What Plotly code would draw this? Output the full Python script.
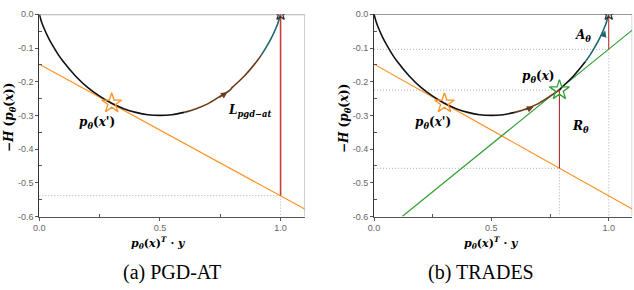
import plotly.graph_objects as go

# ---- data ----
curve_x = [0.0, 0.01, 0.02, 0.04, 0.06, 0.08, 0.10, 0.15, 0.20, 0.25, 0.30, 0.35, 0.40, 0.45, 0.50,
           0.55, 0.60, 0.65, 0.70, 0.75, 0.79, 0.80, 0.85, 0.90, 0.92, 0.94, 0.96, 0.98, 0.99, 1.0]
curve_y = [0.0, -0.024, -0.042, -0.073, -0.098, -0.121, -0.141, -0.183, -0.217, -0.243, -0.264, -0.280,
           -0.291, -0.298, -0.300, -0.298, -0.291, -0.280, -0.265, -0.243, -0.225, -0.217, -0.183,
           -0.141, -0.121, -0.098, -0.073, -0.042, -0.024, 0.0]

adv_point = (0.30, -0.264)      # p_theta(x')
nat_point = (0.79, -0.225)      # p_theta(x)
label_point = (1.0, 0.0)        # y

orange_x = [0.0, 1.1]
orange_y = [-0.148, -0.578]
green_x = [0.12, 1.1]
green_y = [-0.6, -0.047]

pgd_gap_y = -0.538              # orange line at x = 1
trades_top_y = -0.104           # green line at x = 1
trades_bot_y = -0.457           # orange line at x = 0.79

yticks = [0.0, -0.1, -0.2, -0.3, -0.4, -0.5, -0.6]
ytick_text = ["0.0", "-0.1", "-0.2", "-0.3", "-0.4", "-0.5", "-0.6"]
xticks = [0.0, 0.5, 1.0]
xtick_text = ["0.0", "0.5", "1.0"]

BLACK = "#111111"
BROWN = "#6b3b1c"
TEAL = "#1d6670"
ORANGE = "#ff9124"
GREEN = "#34a034"
RED = "#c83c3c"
GRAY = "#9a9a9a"

W, H = 634, 290
def px_x(p): return p / W
def px_y(p): return 1 - p / H

fig = go.Figure()

def seg(xs, ys, lo, hi):
    pts = [(a, b) for a, b in zip(xs, ys) if lo - 1e-9 <= a <= hi + 1e-9]
    return [p[0] for p in pts], [p[1] for p in pts]

def add_curve(xa, ya, segments):
    for lo, hi, col in segments:
        sx, sy = seg(curve_x, curve_y, lo, hi)
        fig.add_trace(go.Scatter(x=sx, y=sy, mode="lines", line=dict(color=col, width=1.6, shape="spline"),
                                 xaxis=xa, yaxis=ya, showlegend=False, hoverinfo="skip"))

def line(xa, ya, xs, ys, col, width=1.0, dash="solid"):
    fig.add_trace(go.Scatter(x=xs, y=ys, mode="lines", line=dict(color=col, width=width, dash=dash),
                             xaxis=xa, yaxis=ya, showlegend=False, hoverinfo="skip"))

def star(xa, ya, pt, col, size, symbol="star-open"):
    fig.add_trace(go.Scatter(x=[pt[0]], y=[pt[1]], mode="markers",
                             marker=dict(symbol=symbol, size=size, color=col, line=dict(color=col, width=1.3)),
                             xaxis=xa, yaxis=ya, showlegend=False, hoverinfo="skip"))

DOT = "1px,2px"

# ---------- left: PGD-AT ----------
line("x", "y", [0, label_point[0]], [pgd_gap_y, pgd_gap_y], GRAY, 0.8, DOT)
line("x", "y", [label_point[0], label_point[0]], [pgd_gap_y, -0.6], GRAY, 0.8, DOT)
line("x", "y", orange_x, orange_y, ORANGE, 1.2)
add_curve("x", "y", [(0.0, 0.60, BLACK), (0.60, 0.92, BROWN), (0.92, 1.0, TEAL)])
line("x", "y", [label_point[0], label_point[0]], [label_point[1], pgd_gap_y], RED, 1.6)
star("x", "y", adv_point, ORANGE, 15)
star("x", "y", label_point, "#333333", 9)

# ---------- right: TRADES ----------
line("x2", "y2", [0, label_point[0]], [trades_top_y, trades_top_y], GRAY, 0.8, DOT)
line("x2", "y2", [0, nat_point[0]], [nat_point[1], nat_point[1]], GRAY, 0.8, DOT)
line("x2", "y2", [0, nat_point[0]], [trades_bot_y, trades_bot_y], GRAY, 0.8, DOT)
line("x2", "y2", [nat_point[0], nat_point[0]], [trades_bot_y, -0.6], GRAY, 0.8, DOT)
line("x2", "y2", [label_point[0], label_point[0]], [trades_top_y, -0.6], GRAY, 0.8, DOT)
line("x2", "y2", orange_x, orange_y, ORANGE, 1.2)
line("x2", "y2", green_x, green_y, GREEN, 1.2)
add_curve("x2", "y2", [(0.0, 0.60, BLACK), (0.60, 0.79, BROWN), (0.79, 0.90, BLACK), (0.90, 1.0, TEAL)])
line("x2", "y2", [nat_point[0], nat_point[0]], [nat_point[1], trades_bot_y], "#b03030", 1.1)
line("x2", "y2", [label_point[0], label_point[0]], [label_point[1], trades_top_y], "#b03030", 1.1)
star("x2", "y2", adv_point, ORANGE, 15)
star("x2", "y2", nat_point, GREEN, 15)
star("x2", "y2", label_point, "#333333", 9)

# ---------- axes ----------
left_dom = [px_x(39.3), px_x(304.7)]
right_dom = [px_x(374.0), px_x(632.2)]
ydom = [px_y(216.5), px_y(14.3)]

def xaxis_cfg(dom, anchor):
    return dict(domain=dom, anchor=anchor, range=[0, 1.1], tickvals=xticks, ticktext=xtick_text,
                automargin=False,
                showgrid=False, zeroline=False, showline=True, linecolor="#555555", linewidth=1,
                ticks="outside", ticklen=3, tickcolor="#555555",
                minor=dict(tickvals=[0.25, 0.75], ticks="inside", ticklen=3, tickcolor="#555555"),
                tickfont=dict(family="Liberation Sans, Arial", size=9, color="#666666"))

def yaxis_cfg(anchor):
    return dict(domain=ydom, anchor=anchor, range=[-0.6, 0.0], tickvals=yticks, ticktext=ytick_text,
                automargin=False,
                showgrid=False, zeroline=False, showline=True, linecolor="#333333", linewidth=1,
                ticks="outside", ticklen=3, tickcolor="#555555",
                minor=dict(tickvals=[-0.05, -0.15, -0.25, -0.35, -0.45, -0.55], ticks="inside",
                           ticklen=3, tickcolor="#555555"),
                tickfont=dict(family="Liberation Sans, Arial", size=9, color="#666666"))

fig.update_layout(
    template="none",
    xaxis=xaxis_cfg(left_dom, "y"), yaxis=yaxis_cfg("x"),
    xaxis2=xaxis_cfg(right_dom, "y2"), yaxis2=yaxis_cfg("x2"),
    width=W, height=H, margin=dict(l=0, r=0, t=0, b=0, pad=0, autoexpand=False),
    paper_bgcolor="white", plot_bgcolor="white", showlegend=False,
)

# frame borders (top / right)
for xr, yr, topcol, topw in [("x", "y", "#b0b0b0", 2), ("x2", "y2", "#777777", 1.2)]:
    fig.add_shape(type="line", xref=xr, yref=yr, x0=0, x1=1.1, y0=0, y1=0,
                  line=dict(color=topcol, width=topw), layer="below")
    fig.add_shape(type="line", xref=xr, yref=yr, x0=1.1, x1=1.1, y0=0, y1=-0.6,
                  line=dict(color="#aaaaaa", width=1), layer="below")

# arrows along the curve
def arrow(xr, yr, tip, tail, col):
    fig.add_annotation(x=tip[0], y=tip[1], ax=tail[0], ay=tail[1], xref=xr, yref=yr, axref=xr, ayref=yr,
                       text="", showarrow=True, arrowhead=2, arrowsize=1.1, arrowwidth=1.2, arrowcolor=col)

arrow("x", "y", (0.78, -0.231), (0.74, -0.250), BROWN)
arrow("x2", "y2", (0.68, -0.274), (0.64, -0.286), BROWN)
arrow("x2", "y2", (0.985, -0.048), (0.975, -0.07), TEAL)

MATH = "DejaVu Serif, Liberation Serif, serif"
def label(xr, yr, x, y, txt, size=12):
    fig.add_annotation(x=x, y=y, xref=xr, yref=yr, text=txt, showarrow=False,
                       xanchor="center", yanchor="middle",
                       font=dict(family=MATH, size=size, color="black"))

pxp = "<b><i>p</i></b><sub><b><i>θ</i></b></sub><b>(<i>x'</i>)</b>"
pxn = "<b><i>p</i></b><sub><b><i>θ</i></b></sub><b>(<i>x</i>)</b>"
label("x", "y", 0.24, -0.322, pxp)
label("x", "y", 0.87, -0.288, "<b><i>L</i></b><sub><b><i>pgd−at</i></b></sub>")
label("x", "y", 1.0, 0.025, "<b><i>y</i></b>", 13)
label("x2", "y2", 0.25, -0.322, pxp)
label("x2", "y2", 0.70, -0.185, pxn)
label("x2", "y2", 0.89, -0.063, "<b><i>A</i></b><sub><b><i>θ</i></b></sub>")
label("x2", "y2", 0.88, -0.335, "<b><i>R</i></b><sub><b><i>θ</i></b></sub>")
label("x2", "y2", 1.0, 0.025, "<b><i>y</i></b>", 13)

# axis titles and captions
ytitle = "<b>−<i>H</i> (<i>p</i><sub><i>θ</i></sub>(<i>x</i>))</b>"
xtitle = "<b><i>p</i><sub><i>θ</i></sub>(<i>x</i>)<sup><i>T</i></sup> · <i>y</i></b>"
for xc, txt in [(10, ytitle), (345, ytitle)]:
    fig.add_annotation(x=px_x(xc), y=px_y(118), xref="paper", yref="paper", text=txt, textangle=-90,
                       xanchor="center", yanchor="middle",
                       showarrow=False, font=dict(family=MATH, size=12, color="black"))
for xc in [158, 492]:
    fig.add_annotation(x=px_x(xc), y=px_y(243), xref="paper", yref="paper", text=xtitle,
                       xanchor="center", yanchor="middle",
                       showarrow=False, font=dict(family=MATH, size=11, color="black"))
for xc, txt in [(172, "(a) PGD-AT"), (481, "(b) TRADES")]:
    fig.add_annotation(x=px_x(xc), y=px_y(272), xref="paper", yref="paper", text=txt,
                       xanchor="center", yanchor="middle",
                       showarrow=False, font=dict(family="Liberation Serif, Times New Roman, serif",
                                                  size=20, color="black"))

fig.write_html("out.html", config={"displayModeBar": False},
               post_script="document.body.style.margin='0';")
